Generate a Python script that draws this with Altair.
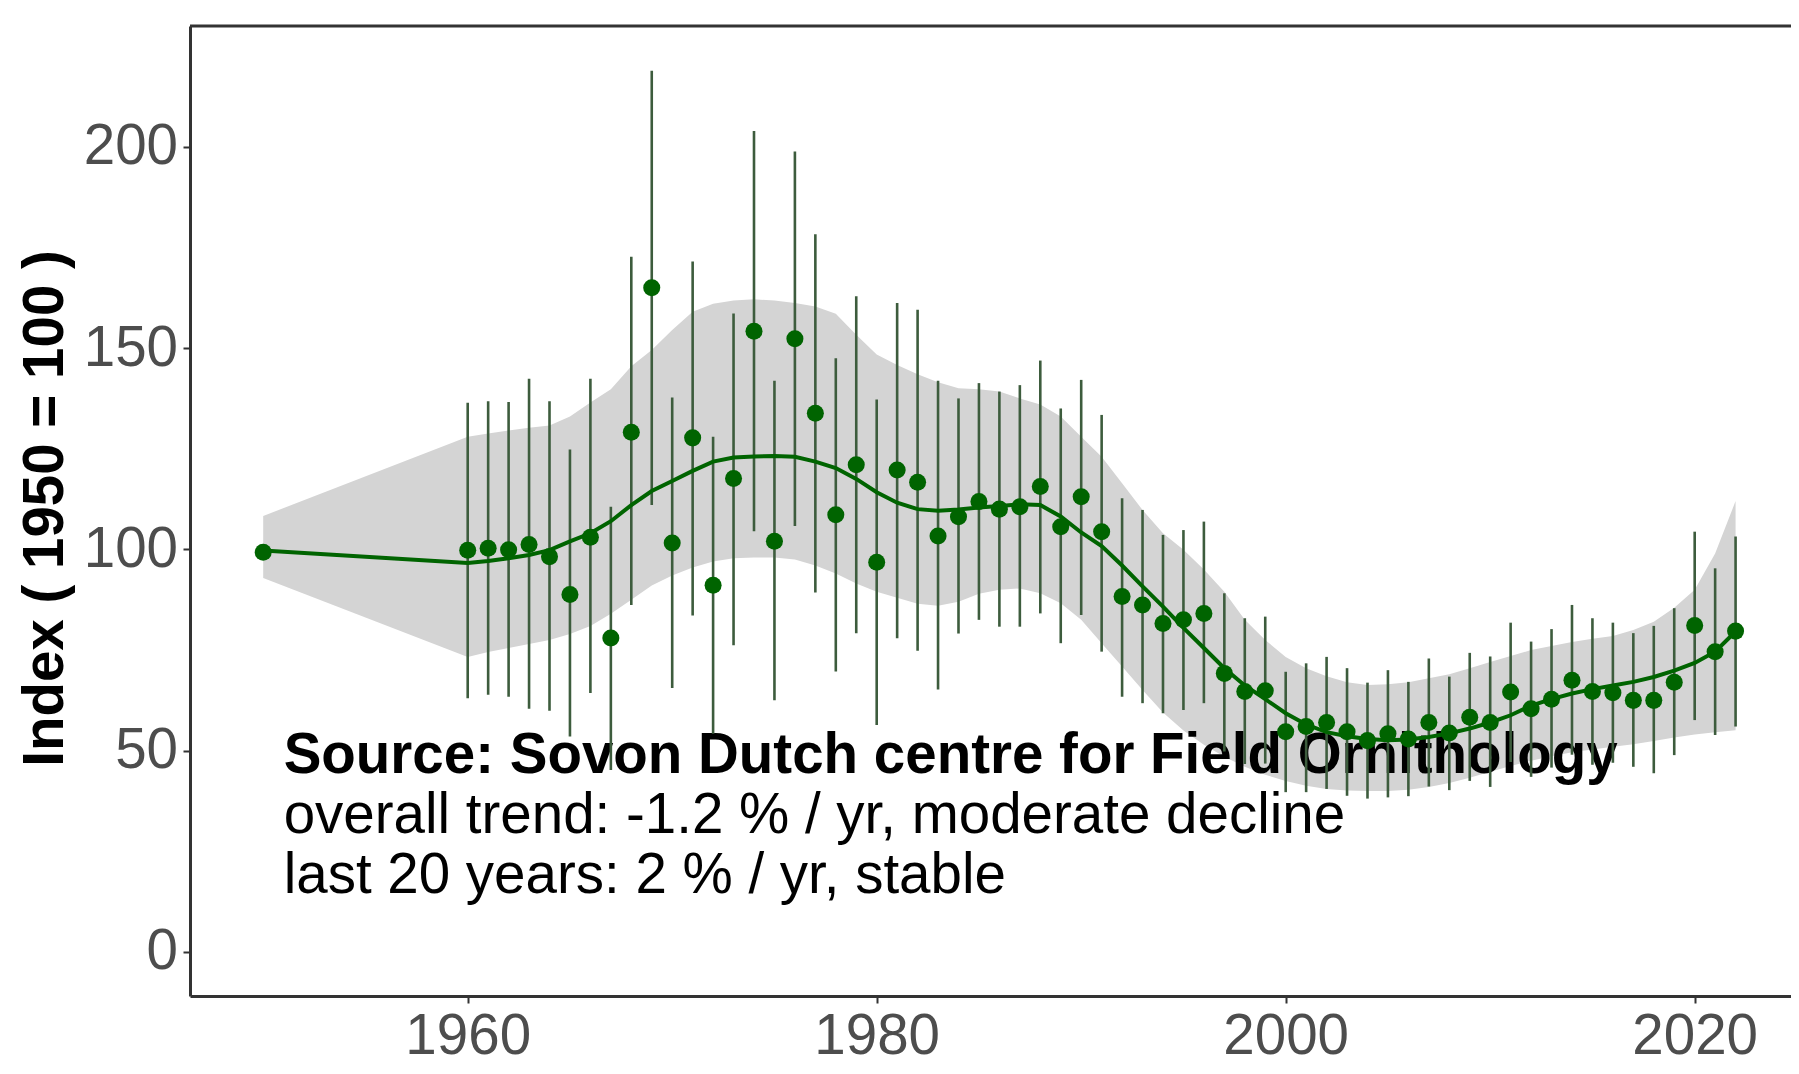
import altair as alt
import pandas as pd

# ---------------- data ----------------
years = [1950, 1960, 1961, 1962, 1963, 1964, 1965, 1966, 1967, 1968, 1969,
         1970, 1971, 1972, 1973, 1974, 1975, 1976, 1977, 1978, 1979,
         1980, 1981, 1982, 1983, 1984, 1985, 1986, 1987, 1988, 1989,
         1990, 1991, 1992, 1993, 1994, 1995, 1996, 1997, 1998, 1999,
         2000, 2001, 2002, 2003, 2004, 2005, 2006, 2007, 2008, 2009,
         2010, 2011, 2012, 2013, 2014, 2015, 2016, 2017, 2018, 2019,
         2020, 2021, 2022]

index_values = [99.3, 99.8, 100.3, 99.9, 101.2, 98.2, 88.8, 103.0, 78.0, 129.1, 165.0,
                101.6, 127.7, 91.1, 117.6, 154.2, 102.0, 152.3, 133.8, 108.6, 121.0,
                96.8, 119.7, 116.7, 103.3, 108.1, 111.9, 110.0, 110.6, 115.6, 105.6,
                113.1, 104.4, 88.3, 86.2, 81.6, 82.5, 84.1, 69.2, 64.7, 64.9,
                54.7, 56.0, 57.0, 54.7, 52.5, 54.2, 52.9, 57.0, 54.4, 58.3,
                57.0, 64.6, 60.4, 62.8, 67.5, 64.7, 64.4, 62.5, 62.5, 67.0,
                81.1, 74.6, 79.7]

# confidence interval of each yearly index (no interval for the base year 1950)
ci_lower = [None, 63.0, 63.9, 63.4, 60.4, 59.9, 53.5, 64.3, 45.2, 86.2, 111.0,
            65.6, 83.6, 54.2, 76.2, 104.5, 62.5, 105.8, 89.3, 69.7, 79.2,
            56.4, 77.9, 74.8, 65.2, 79.1, 82.5, 80.8, 80.8, 84.1, 76.7,
            83.7, 74.6, 63.4, 61.8, 59.3, 60.1, 61.8, 49.8, 46.7, 46.8,
            39.7, 39.7, 40.5, 38.8, 38.1, 38.4, 38.7, 41.1, 40.2, 42.5,
            41.0, 47.2, 43.5, 45.8, 49.0, 46.5, 47.0, 46.0, 44.4, 48.9,
            57.6, 53.9, 56.0]
ci_upper = [None, 136.4, 136.8, 136.6, 142.4, 136.8, 124.8, 142.4, 110.6, 172.7, 218.9,
            137.7, 171.5, 128.0, 158.6, 203.9, 141.9, 198.8, 178.3, 147.5, 162.9,
            137.2, 161.2, 159.5, 141.9, 137.5, 141.3, 139.2, 140.8, 146.9, 135.0,
            142.1, 133.4, 112.7, 109.8, 103.6, 104.8, 106.9, 89.1, 82.9, 83.3,
            69.6, 71.7, 73.3, 70.5, 66.9, 70.0, 67.1, 72.9, 68.4, 74.3,
            73.4, 81.8, 77.1, 80.2, 86.2, 82.9, 81.8, 79.2, 81.0, 85.4,
            104.4, 95.3, 103.2]

# smoothed trend and its band
trend = [99.7, 96.6, 97.1, 97.8, 98.6, 99.8, 102.0, 104.0, 107.0, 111.0, 114.5,
         117.0, 119.5, 121.8, 122.8, 123.1, 123.2, 123.0, 121.8, 120.2, 117.5,
         114.2, 111.6, 110.0, 109.6, 109.9, 110.4, 110.8, 111.2, 111.0, 108.2,
         104.2, 100.8, 96.0, 90.8, 85.8, 80.5, 75.5, 70.5, 66.2, 62.8,
         59.3, 56.5, 54.6, 53.6, 52.9, 52.6, 52.8, 53.4, 54.3, 55.5,
         57.0, 58.8, 61.2, 62.8, 64.2, 65.3, 66.2, 67.1, 68.3, 69.9,
         71.8, 74.6, 79.6]
band_upper = [108.3, 128.0, 128.8, 129.5, 130.2, 130.8, 133.0, 136.5, 139.8, 145.5, 149.5,
              154.5, 159.0, 161.0, 161.8, 162.1, 161.8, 161.2, 160.3, 158.5, 153.3,
              148.4, 145.8, 143.5, 141.5, 140.0, 139.8, 139.2, 137.5, 136.0, 133.0,
              128.0, 123.0, 116.4, 109.8, 104.0, 99.9, 95.0, 89.5, 82.5, 77.5,
              73.3, 70.5, 68.5, 67.0, 66.3, 66.5, 67.0, 68.0, 69.0, 70.5,
              72.0, 73.5, 75.0, 76.0, 77.0, 77.8, 78.5, 80.0, 82.0, 85.5,
              90.0, 99.0, 112.0]
band_lower = [92.9, 73.3, 74.5, 75.5, 76.5, 77.5, 79.0, 81.0, 84.0, 87.5, 91.0,
              93.5, 95.5, 97.0, 97.8, 98.0, 98.0, 97.5, 96.0, 94.0, 91.5,
              89.5, 88.0, 86.5, 86.0, 87.0, 89.0, 90.0, 90.3, 89.1, 86.6,
              82.5, 76.7, 70.9, 65.1, 59.5, 55.0, 51.5, 48.5, 46.0, 44.0,
              42.5, 41.3, 40.5, 40.1, 40.0, 40.0, 40.3, 41.0, 42.0, 43.3,
              44.8, 46.2, 47.5, 48.6, 49.6, 50.3, 51.0, 51.6, 52.4, 53.3,
              54.0, 54.6, 55.1]

x_ticks = [1960, 1980, 2000, 2020]
y_ticks = [0, 50, 100, 150, 200]

note_bold = ["Source: Sovon Dutch centre for Field Ornithology"]
note_plain = ["overall trend: -1.2 % / yr, moderate decline",
              "last 20 years: 2 % / yr, stable"]
note_x = 1951
note_bold_y = [44.5]
note_plain_y = [29.6, 14.7]

y_title = "Index ( 1950 = 100 )"

# ---------------- tables ----------------
df = pd.DataFrame({
    "year": years,
    "index": index_values,
    "lo": ci_lower,
    "hi": ci_upper,
    "trend": trend,
    "bu": band_upper,
    "bl": band_lower,
})
df_ci = df.dropna(subset=["lo", "hi"])
notes_b = pd.DataFrame({"text": note_bold, "x": [note_x] * len(note_bold), "y": note_bold_y})
notes_p = pd.DataFrame({"text": note_plain, "x": [note_x] * len(note_plain), "y": note_plain_y})

# ---------------- layout ----------------
W, H = 1601, 970
FONT = "Liberation Sans"
FS = 56.5
GREEN = "#006400"

xscale = alt.Scale(domain=[1946.42, 2024.71], nice=False, zero=False)
yscale = alt.Scale(domain=[-10.93, 230.0], nice=False, zero=False)

x_axis = alt.Axis(values=x_ticks, format="d", title=None, grid=False,
                  labelFontSize=FS, labelColor="#4d4d4d", labelFont=FONT,
                  labelPadding=5, tickSize=7, tickWidth=2, tickColor="#333333",
                  domainColor="#333333", domainWidth=3, labelFlush=False)
y_axis = alt.Axis(values=y_ticks, format="d", title=y_title, grid=False,
                  labelFontSize=FS, labelColor="#4d4d4d", labelFont=FONT,
                  labelPadding=5.5, tickSize=7, tickWidth=2, tickColor="#333333",
                  domainColor="#333333", domainWidth=3,
                  titleFont=FONT, titleFontSize=FS, titleFontWeight="bold",
                  titleColor="#000000", titleAngle=270, titleAlign="center",
                  titleBaseline="alphabetic", titleX=-128, titleY=482)

base = alt.Chart(df)

band = base.mark_area(color="#d4d4d4", opacity=1).encode(
    x=alt.X("year:Q", scale=xscale, axis=x_axis),
    y=alt.Y("bl:Q", scale=yscale, axis=y_axis),
    y2="bu:Q",
)

text_b = alt.Chart(notes_b).mark_text(align="left", baseline="alphabetic", font=FONT,
                                       fontSize=FS, fontWeight="bold", color="#000000").encode(
    x=alt.X("x:Q", scale=xscale),
    y=alt.Y("y:Q", scale=yscale),
    text="text:N",
)
text_p = alt.Chart(notes_p).mark_text(align="left", baseline="alphabetic", font=FONT,
                                       fontSize=FS, fontWeight="normal", color="#000000").encode(
    x=alt.X("x:Q", scale=xscale),
    y=alt.Y("y:Q", scale=yscale),
    text="text:N",
)

bars = alt.Chart(df_ci).mark_rule(color="#3d5c3d", strokeWidth=2.6).encode(
    x=alt.X("year:Q", scale=xscale),
    y=alt.Y("lo:Q", scale=yscale),
    y2="hi:Q",
)

line = base.mark_line(color=GREEN, strokeWidth=4).encode(
    x=alt.X("year:Q", scale=xscale),
    y=alt.Y("trend:Q", scale=yscale),
)

points = base.mark_circle(color=GREEN, size=290, opacity=1).encode(
    x=alt.X("year:Q", scale=xscale),
    y=alt.Y("index:Q", scale=yscale),
)

top_border = alt.Chart(df.head(1)).mark_rule(color="#333333", strokeWidth=3).encode(
    x=alt.value(0), x2=alt.value(W), y=alt.value(0)
)

chart = alt.layer(band, text_b, text_p, bars, line, points, top_border).properties(
    width=W, height=H,
    autosize=alt.AutoSizeParams(type="none"),
    padding={"left": 182, "top": 18, "right": 0, "bottom": 68},
    background="white",
).configure_view(strokeWidth=0)

chart.save("out.html", embed_options={"renderer": "svg", "actions": False})
